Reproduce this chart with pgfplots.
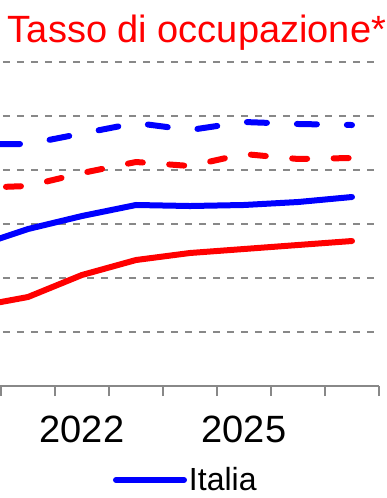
\documentclass[border=0pt]{standalone}
\usepackage{pgfplots}
\pgfplotsset{compat=1.18}
\usepackage{fontspec}
\setmainfont{Liberation Sans}
\definecolor{gridgray}{RGB}{136,136,136}
\begin{document}
\begin{tikzpicture}
\useasboundingbox (0pt,0pt) rectangle (387pt,498pt);
\clip (0pt,0pt) rectangle (387pt,498pt);
\begin{axis}[
  at={(-53pt,112pt)}, anchor=south west,
  scale only axis, width=432pt, height=324pt,
  xmin=2019.5, xmax=2027.5, ymin=0, ymax=6,
  axis lines*=left,
  x axis line style={draw=gridgray, line width=2pt},
  y axis line style={draw=none},
  ytick={1,2,3,4,5,6}, yticklabels={},
  ytick style={draw=none},
  ymajorgrids,
  grid style={draw=gridgray, line width=2pt, dash pattern=on 7pt off 7pt},
  xtick={2019.5,2020.5,...,2027.5}, xticklabels={},
  tick align=outside,
  major tick length=10pt,
  x tick style={draw=gridgray, line width=2pt},
  extra x ticks={2022,2025},
  extra x tick labels={2022,2025},
  extra x tick style={major tick length=0pt, xticklabel style={anchor=base, yshift=-56pt}},
  /pgf/number format/assume math mode=true,
  tick label style={font=\fontsize{38}{40}\selectfont},
  clip=false,
  legend style={draw=none, fill=none, inner sep=0pt, outer sep=0pt,
    at={(axis cs:2022.574,-1.74)}, anchor=west,
    font=\fontsize{32}{34}\selectfont},
  legend cell align=left,
  legend image code/.code={\draw[#1, line cap=round] (0pt,0pt) -- (68pt,0pt);},
]
\addplot[blue, line width=6pt, line cap=round, line join=round] coordinates {
 (2020,2.574) (2021,2.907) (2022,3.148) (2023,3.352) (2024,3.333) (2025,3.352) (2026,3.407) (2027,3.5)};
\addlegendentry{Italia}
\addplot[red, line width=6pt, line cap=round, line join=round, forget plot] coordinates {
 (2020,1.463) (2021,1.648) (2022,2.056) (2023,2.333) (2024,2.463) (2025,2.537) (2026,2.611) (2027,2.685)};
\addplot[blue, line width=6pt, line cap=round, line join=round, dash pattern=on 20pt off 30pt, dash phase=24pt, forget plot] coordinates {
 (2020,4.481) (2021,4.481) (2022,4.676) (2023,4.870) (2024,4.741) (2025,4.889) (2026,4.852) (2027,4.833)};
\addplot[red, line width=6pt, line cap=round, line join=round, dash pattern=on 15pt off 26.5pt, dash phase=9.5pt, forget plot] coordinates {
 (2020,3.667) (2021,3.704) (2022,3.944) (2023,4.148) (2024,4.074) (2025,4.296) (2026,4.204) (2027,4.222)};
\end{axis}
\node[anchor=base, text=red, font=\fontsize{38}{40}\selectfont, inner sep=0pt] at (197pt,455pt) {Tasso di occupazione*};
\end{tikzpicture}
\end{document}
